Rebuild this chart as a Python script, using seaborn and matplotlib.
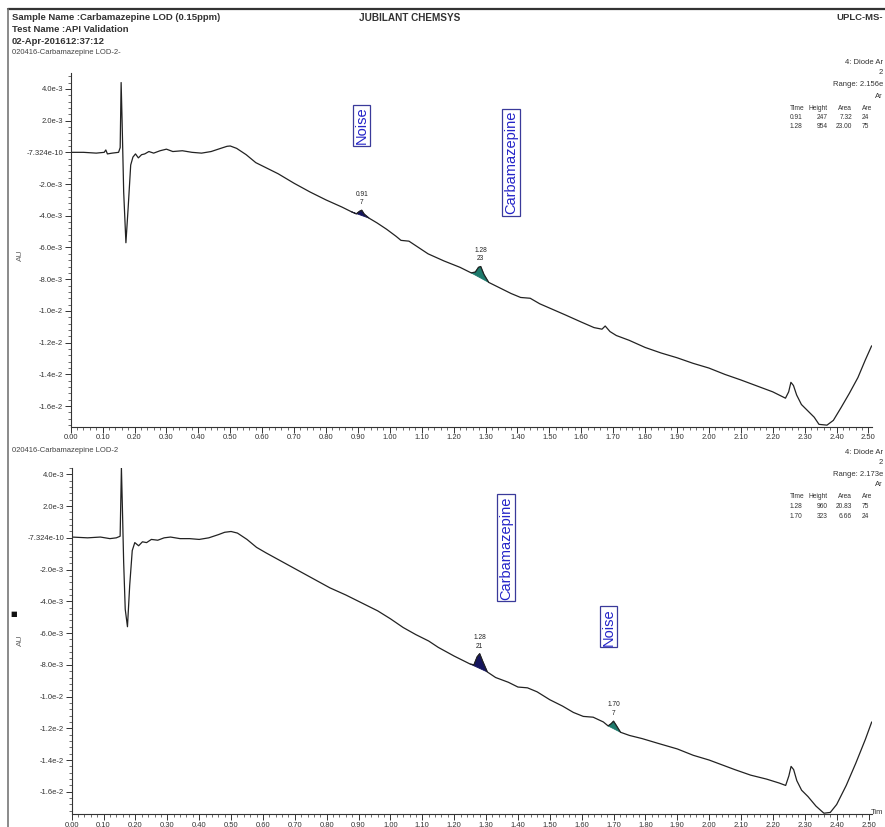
import numpy as np
import matplotlib
matplotlib.use("Agg")
import matplotlib.pyplot as plt
from matplotlib.lines import Line2D
from matplotlib.ticker import MultipleLocator, FixedLocator
import seaborn as sns

sns.set_style("white")
plt.rcParams["font.family"] = ["Liberation Sans Narrow", "Liberation Sans", "DejaVu Sans"]

# ---- data (AU values in units of 1e-3) ----
top_time = [0.00, 0.04, 0.08, 0.105, 0.11, 0.115, 0.13, 0.15, 0.155, 0.158, 0.161, 0.166,
            0.173, 0.180, 0.188, 0.195, 0.203, 0.212, 0.222, 0.232, 0.245, 0.26, 0.28, 0.30,
            0.32, 0.35, 0.38, 0.41, 0.44, 0.47, 0.49, 0.50, 0.52, 0.55, 0.58, 0.60, 0.65,
            0.70, 0.75, 0.80, 0.85, 0.88, 0.895, 0.905, 0.912, 0.92, 0.935, 0.96, 0.99,
            1.02, 1.035, 1.06, 1.09, 1.12, 1.17, 1.22, 1.255, 1.268, 1.278, 1.285, 1.295,
            1.31, 1.35, 1.38, 1.41, 1.44, 1.47, 1.51, 1.55, 1.60, 1.64, 1.665, 1.675, 1.69,
            1.71, 1.75, 1.80, 1.85, 1.90, 1.95, 2.00, 2.05, 2.10, 2.16, 2.20, 2.24, 2.25,
            2.257, 2.265, 2.275, 2.29, 2.31, 2.33, 2.345, 2.37, 2.39, 2.414, 2.44, 2.467,
            2.49, 2.51]
top_au = [0.0, 0.0, -0.05, 0.0, 0.15, -0.1, -0.05, 0.0, 0.3, 4.4, 2.0, -2.5,
          -5.7, -3.5, -0.8, -0.3, -0.1, -0.35, -0.15, -0.1, 0.05, -0.05, 0.1, 0.2,
          0.05, 0.1, 0.0, -0.05, 0.05, 0.25, 0.38, 0.4, 0.25, -0.15, -0.65, -0.85, -1.35,
          -1.95, -2.5, -3.0, -3.45, -3.75, -3.88, -3.72, -3.65, -3.9, -4.15, -4.45, -4.85,
          -5.3, -5.55, -5.6, -6.0, -6.4, -6.85, -7.25, -7.6, -7.55, -7.25, -7.2, -7.7,
          -8.2, -8.6, -8.9, -9.15, -9.2, -9.55, -9.9, -10.25, -10.7, -11.05, -11.15, -10.95, -11.3,
          -11.55, -11.85, -12.3, -12.65, -12.95, -13.3, -13.6, -14.0, -14.35, -14.8, -15.1, -15.5, -15.1,
          -14.5, -14.7, -15.3, -15.9, -16.3, -16.7, -17.15, -17.2, -16.9, -16.1, -15.2, -14.2,
          -13.1, -12.2]

bot_time = [0.00, 0.05, 0.09, 0.12, 0.14, 0.152, 0.156, 0.159, 0.163, 0.168, 0.175, 0.182,
            0.19, 0.198, 0.21, 0.222, 0.235, 0.25, 0.27, 0.29, 0.31, 0.34, 0.37, 0.40, 0.43,
            0.46, 0.48, 0.50, 0.52, 0.55, 0.58, 0.61, 0.66, 0.71, 0.76, 0.81, 0.86, 0.91,
            0.96, 1.00, 1.04, 1.08, 1.12, 1.15, 1.20, 1.25, 1.262, 1.272, 1.28, 1.29, 1.304,
            1.33, 1.37, 1.40, 1.43, 1.46, 1.50, 1.54, 1.574, 1.605, 1.636, 1.668, 1.683,
            1.693, 1.70, 1.708, 1.722, 1.75, 1.79, 1.84, 1.90, 1.95, 2.00, 2.04, 2.08, 2.13,
            2.18, 2.22, 2.24, 2.25, 2.257, 2.265, 2.275, 2.29, 2.31, 2.335, 2.36, 2.38, 2.40,
            2.43, 2.46, 2.49, 2.51]
bot_au = [0.05, 0.0, 0.05, -0.05, 0.0, 0.1, 4.4, 2.0, -1.5, -4.5, -5.6, -3.0,
          -0.8, -0.3, -0.5, -0.25, -0.3, -0.1, -0.15, 0.0, 0.05, -0.05, -0.05, -0.1, 0.0,
          0.2, 0.35, 0.4, 0.3, -0.1, -0.6, -0.95, -1.5, -2.05, -2.6, -3.15, -3.6, -4.1,
          -4.6, -5.1, -5.65, -6.1, -6.5, -6.9, -7.45, -7.95, -8.0, -7.5, -7.3, -7.8, -8.45,
          -8.8, -9.1, -9.4, -9.45, -9.7, -10.2, -10.6, -11.0, -11.25, -11.3, -11.6, -11.85,
          -11.7, -11.55, -11.8, -12.25, -12.45, -12.65, -12.95, -13.3, -13.7, -14.0, -14.3, -14.6, -14.95,
          -15.2, -15.45, -15.6, -15.0, -14.4, -14.6, -15.3, -15.9, -16.3, -16.9, -17.35, -17.3, -16.8,
          -15.6, -14.2, -12.7, -11.6]

# integrated peaks: (start, end, apex time, label, colour)
top_peaks = [(0.88, 0.935, 0.912, "0.91\n7", "#15155e"), (1.255, 1.31, 1.285, "1.28\n23", "#1d7a6c")]
bot_peaks = [(1.25, 1.304, 1.28, "1.28\n21", "#15155e"), (1.683, 1.722, 1.70, "1.70\n7", "#1d7a6c")]

# boxed component names: (text, time, AU e-3)
top_names = [("Noise", 0.912, 1.7), ("Carbamazepine", 1.38, -0.63)]
bot_names = [("Carbamazepine", 1.363, -0.63), ("Noise", 1.684, -5.6)]

ytick_vals = [4.0, 2.0, 0.0, -2.0, -4.0, -6.0, -8.0, -10.0, -12.0, -14.0, -16.0]
ytick_labels = ["4.0e-3", "2.0e-3", "-7.324e-10", "-2.0e-3", "-4.0e-3", "-6.0e-3", "-8.0e-3",
                "-1.0e-2", "-1.2e-2", "-1.4e-2", "-1.6e-2"]

# peak tables at the right edge, cut off by the page as in the print
table_head = ["Time", "Height", "Area", "Are"]
top_rows = [["0.91", "247", "7.32", "24"], ["1.28", "954", "23.00", "75"]]
bot_rows = [["1.28", "960", "20.83", "75"], ["1.70", "323", "6.66", "24"]]

fig = plt.figure(figsize=(8.85, 8.27), dpi=100)
ax_top = fig.add_axes([0.0799, 0.484, 0.905, 0.4277])
ax_bot = fig.add_axes([0.0810, 0.0157, 0.904, 0.4184])


def draw_panel(ax, t, au, peaks, names, ylim):
    t = np.array(t)
    au = np.array(au) * 1e-3
    sns.lineplot(x=t, y=au, ax=ax, color="#222222", linewidth=0.9, estimator=None, sort=False)
    for start, end, apex, lab, col in peaks:
        m = (t >= start) & (t <= end)
        ax.fill(t[m], au[m], color=col, linewidth=0.6)
        ytop = au[np.argmin(np.abs(t - apex))]
        ax.annotate(lab, (apex, ytop), xytext=(0, 3), textcoords="offset points",
                    ha="center", va="bottom", fontsize=4.8, linespacing=1.3, color="#222222")
    for txt, x, y in names:
        ax.text(x, y * 1e-3, txt, rotation=90, ha="center", va="center", fontsize=10.5,
                color="#2424c8", family=["Liberation Sans", "DejaVu Sans"],
                bbox=dict(boxstyle="square,pad=0.12", facecolor="white", edgecolor="#3a3a9a",
                          linewidth=0.9))
    ax.set_xlim(0, 2.51)
    ax.set_ylim(ylim[0] * 1e-3, ylim[1] * 1e-3)
    ax.xaxis.set_major_locator(MultipleLocator(0.1))
    ax.xaxis.set_minor_locator(MultipleLocator(0.02))
    ax.set_xticklabels([f"{v:.2f}" for v in ax.get_xticks()])
    ax.yaxis.set_major_locator(FixedLocator([v * 1e-3 for v in ytick_vals]))
    ax.set_yticklabels(ytick_labels)
    ax.yaxis.set_minor_locator(MultipleLocator(0.0004))
    ax.tick_params(axis="both", which="major", direction="out", length=4, width=0.7,
                   labelsize=5.5, pad=1.5, colors="#333333")
    ax.tick_params(axis="both", which="minor", direction="out", length=2, width=0.5, colors="#333333")
    ax.xaxis.set_ticks_position("bottom")
    ax.yaxis.set_ticks_position("left")
    for side in ["top", "right"]:
        ax.spines[side].set_visible(False)
    for side in ["left", "bottom"]:
        ax.spines[side].set_color("#333333")
        ax.spines[side].set_linewidth(0.8)
    ax.set_xlabel("")
    ax.set_ylabel("")


draw_panel(ax_top, top_time, top_au, top_peaks, top_names, (-17.3, 5.0))
draw_panel(ax_bot, bot_time, bot_au, bot_peaks, bot_names, (-17.4, 4.4))

# page frame
fig.add_artist(Line2D([8 / 885, 1], [1 - 9 / 827, 1 - 9 / 827], color="#333333", linewidth=1.6))
fig.add_artist(Line2D([8 / 885, 8 / 885], [0, 1 - 9 / 827], color="#777777", linewidth=1.2))


def px(x, y):
    return x / 885, 1 - y / 827


hdr = dict(fontsize=6.8, fontweight="bold", color="#333333", va="center", ha="left")
fig.text(*px(12, 18), "Sample Name :Carbamazepine LOD (0.15ppm)", **hdr)
fig.text(*px(12, 29), "Test Name :API Validation", **hdr)
fig.text(*px(12, 41), "02-Apr-201612:37:12", **hdr)
fig.text(*px(410, 18), "JUBILANT CHEMSYS", **{**hdr, "ha": "center", "fontsize": 7.2})
fig.text(*px(883, 18), "UPLC-MS-", **{**hdr, "ha": "right"})
fig.text(*px(12, 52), "020416-Carbamazepine LOD-2-", fontsize=5.5, color="#444444", va="center")
fig.text(*px(12, 451), "020416-Carbamazepine LOD-2", fontsize=5.5, color="#444444", va="center")

fig.text(*px(20, 255), "AU", rotation=90, fontsize=6, color="#666666", va="center", ha="center")
fig.text(*px(20, 640), "AU", rotation=90, fontsize=6, color="#666666", va="center", ha="center")
fig.text(*px(14, 614), "\u25a0", fontsize=5, color="#111111", va="center", ha="center",
         family=["DejaVu Sans"])

side = dict(fontsize=5.5, color="#333333", va="center", ha="right")
col_x = [(790, "left"), (828, "right"), (852, "right"), (862, "left")]
for y0, rng, rows in [(63, "Range: 2.156e", top_rows), (452, "Range: 2.173e", bot_rows)]:
    fig.text(*px(883, y0), "4: Diode Ar", **side)
    fig.text(*px(883, y0 + 10), "2", **side)
    fig.text(*px(883, y0 + 22), rng, **side)
    fig.text(*px(883, y0 + 33), "Ar", **side)
    for i, row in enumerate([table_head] + rows):
        for (cx, al), cell in zip(col_x, row):
            fig.text(*px(cx, y0 + 45 + 9.5 * i), cell, fontsize=4.8, color="#333333",
                     va="center", ha=al)

fig.text(*px(883, 812), "Tim", fontsize=5.5, color="#333333", va="center", ha="right")

fig.savefig("out.png", dpi=100, facecolor="white")
